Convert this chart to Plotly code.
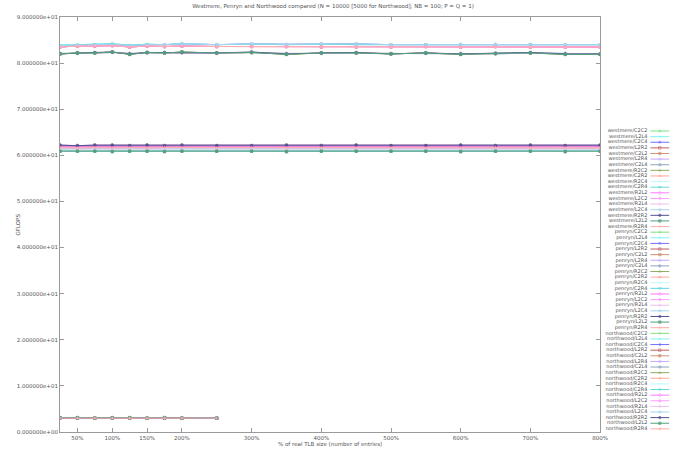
import plotly.graph_objects as go

# ---------------- data ----------------
x_pct = [25, 50, 75, 100, 125, 150, 175, 200, 250, 300, 350, 400, 450, 500, 550, 600, 650, 700, 750, 800]
x_pct_northwood = [25, 50, 75, 100, 125, 150, 175, 200, 250]

x_tick_vals = [50, 100, 150, 200, 300, 400, 500, 600, 700, 800]
x_tick_text = ["50%", "100%", "150%", "200%", "300%", "400%", "500%", "600%", "700%", "800%"]
y_tick_vals = [0, 10, 20, 30, 40, 50, 60, 70, 80, 90]
y_tick_text = ["0.000000e+00", "1.000000e+01", "2.000000e+01", "3.000000e+01", "4.000000e+01",
               "5.000000e+01", "6.000000e+01", "7.000000e+01", "8.000000e+01", "9.000000e+01"]

machines = ["westmere", "penryn", "northwood"]
combos = ["C2C2", "L2L4", "C2C4", "L2R2", "C2L2", "L2R4", "C2L4", "R2C2", "C2R2",
          "R2C4", "C2R4", "R2L2", "L2C2", "R2L4", "L2C4", "R2R2", "L2L2", "R2R4"]

westmere_hi_a = [83.9, 84.0, 84.1, 84.2, 83.9, 84.1, 84.0, 84.2, 84.0, 84.1, 84.0, 84.1, 84.0, 84.0, 84.1, 84.0, 84.0, 84.1, 84.0, 84.0]
westmere_hi_b = [83.8, 83.9, 84.0, 84.1, 83.8, 84.0, 84.0, 84.2, 84.0, 84.2, 84.1, 84.2, 84.2, 84.0, 84.0, 84.1, 84.1, 84.0, 84.0, 84.0]
westmere_hi_c = [83.5, 83.7, 83.7, 83.8, 83.5, 83.7, 83.6, 83.7, 83.6, 83.6, 83.6, 83.5, 83.5, 83.5, 83.6, 83.5, 83.6, 83.5, 83.5, 83.5]
westmere_lo_a = [82.0, 82.2, 82.3, 82.4, 82.0, 82.3, 82.3, 82.3, 82.2, 82.4, 82.0, 82.2, 82.3, 82.0, 82.2, 82.0, 82.1, 82.3, 82.0, 82.0]
westmere_lo_b = [82.1, 82.1, 82.2, 82.3, 82.1, 82.2, 82.2, 82.2, 82.1, 82.3, 82.1, 82.1, 82.2, 82.1, 82.1, 82.1, 82.0, 82.2, 82.1, 82.0]
westmere_lo_c = [82.0, 82.2, 82.2, 82.4, 81.9, 82.3, 82.2, 82.4, 82.2, 82.3, 81.9, 82.2, 82.2, 82.0, 82.2, 81.9, 82.1, 82.2, 81.9, 81.9]

penryn_hi_a = [62.2, 62.1, 62.2, 62.2, 62.1, 62.2, 62.1, 62.2, 62.1, 62.1, 62.2, 62.1, 62.2, 62.1, 62.1, 62.2, 62.1, 62.2, 62.1, 62.2]
penryn_hi_b = [62.0, 62.0, 62.1, 62.0, 62.0, 62.1, 62.0, 62.0, 62.0, 62.0, 62.0, 62.1, 62.0, 62.0, 62.0, 62.0, 62.0, 62.0, 62.0, 62.0]
penryn_mid_a = [61.7, 61.6, 61.7, 61.6, 61.7, 61.6, 61.7, 61.7, 61.6, 61.7, 61.6, 61.7, 61.6, 61.7, 61.6, 61.6, 61.7, 61.6, 61.7, 61.6]
penryn_mid_b = [61.4, 61.4, 61.5, 61.4, 61.4, 61.4, 61.5, 61.4, 61.4, 61.4, 61.5, 61.4, 61.4, 61.4, 61.4, 61.4, 61.4, 61.5, 61.4, 61.4]
penryn_lo_a = [61.0, 60.9, 61.0, 61.0, 60.9, 61.0, 61.0, 61.0, 60.9, 61.0, 60.9, 61.0, 61.0, 60.9, 61.0, 60.9, 61.0, 61.0, 60.9, 61.0]
penryn_lo_b = [60.9, 60.9, 60.9, 60.8, 60.9, 60.9, 60.8, 60.9, 60.9, 60.9, 60.8, 60.9, 60.9, 60.9, 60.9, 60.8, 60.9, 60.9, 60.8, 60.9]

northwood_a = [3.1, 3.1, 3.0, 3.1, 3.1, 3.0, 3.1, 3.0, 3.0]
northwood_b = [3.0, 3.0, 3.0, 3.0, 3.0, 3.0, 3.0, 3.0, 3.0]

westmere_values = {
    "C2C2": westmere_lo_b, "L2L4": westmere_hi_a, "C2C4": westmere_hi_b, "L2R2": westmere_hi_c,
    "C2L2": westmere_lo_c, "L2R4": westmere_lo_a, "C2L4": westmere_lo_b, "R2C2": westmere_lo_c,
    "C2R2": westmere_hi_c, "R2C4": westmere_hi_a, "C2R4": westmere_hi_a, "R2L2": westmere_hi_c,
    "L2C2": westmere_hi_c, "R2L4": westmere_lo_b, "L2C4": westmere_hi_b, "R2R2": westmere_lo_a,
    "L2L2": westmere_lo_c, "R2R4": westmere_hi_c,
}
penryn_values = {
    "C2C2": penryn_lo_a, "L2L4": penryn_mid_a, "C2C4": penryn_hi_b, "L2R2": penryn_hi_a,
    "C2L2": penryn_hi_b, "L2R4": penryn_hi_a, "C2L4": penryn_lo_b, "R2C2": penryn_lo_a,
    "C2R2": penryn_mid_a, "R2C4": penryn_lo_b, "C2R4": penryn_mid_b, "R2L2": penryn_hi_b,
    "L2C2": penryn_mid_a, "R2L4": penryn_mid_b, "L2C4": penryn_lo_a, "R2R2": penryn_hi_a,
    "L2L2": penryn_lo_b, "R2R4": penryn_mid_a,
}
northwood_values = {c: (northwood_a if i % 2 == 0 else northwood_b) for i, c in enumerate(combos)}

# ---------------- styles ----------------
colors = ["#7fe07f", "#7ff5f5", "#7070ff", "#c06060", "#d09070", "#c0a8ff", "#8fa6bf", "#8fae5f", "#ffa898",
          "#c0f8f8", "#60dada", "#ff7aff", "#ff9cff", "#ecc0ec", "#a8d4f0", "#50508f", "#50a080", "#ffacac"]
symbols = ["cross-thin-open", "x-thin-open", "asterisk-open", "square-open", "square", "circle-open",
           "circle", "triangle-up-open", "triangle-up", "triangle-down-open", "triangle-down",
           "diamond-open", "diamond", "pentagon-open", "pentagon", "circle", "square", "cross-thin-open"]

text_color = "#555555"
axis_color = "#9a9a9a"

fig = go.Figure()

series = []
for m, vals, xs in [("westmere", westmere_values, x_pct), ("penryn", penryn_values, x_pct),
                    ("northwood", northwood_values, x_pct_northwood)]:
    for i, c in enumerate(combos):
        series.append((f"{m}/{c}", xs, vals[c], i))

for name, xs, ys, i in series:
    fig.add_trace(go.Scatter(
        x=xs, y=ys, name=name, mode="lines+markers", showlegend=False,
        line=dict(color=colors[i], width=1),
        marker=dict(color=colors[i], size=2.5, symbol=symbols[i], line=dict(width=0.8, color=colors[i])),
        xaxis="x", yaxis="y",
    ))

W, H = 690, 452
px_left, px_right, px_top, px_bottom = 60, 607, 17, 432   # plot box in window pixels
ml, mr, mt, mb = px_left, 0, px_top, H - px_bottom
plot_w = W - ml - mr
plot_h = px_bottom - px_top
dom_end = (px_right - px_left) / plot_w

# ---------------- hand-built legend (window-pixel coordinates on a hidden axis) ----------------
leg_y0, leg_dy = 131.0, 5.62
leg_text_x, leg_l0, leg_l1 = 655.0, 658.0, 677.0
leg_names = [s[0] for s in series]
leg_ys = [leg_y0 + k * leg_dy for k in range(len(series))]

for k, (name, xs, ys, i) in enumerate(series):
    fig.add_trace(go.Scatter(
        x=[leg_l0, (leg_l0 + leg_l1) / 2, leg_l1], y=[leg_ys[k]] * 3,
        mode="lines+markers", showlegend=False, hoverinfo="skip",
        line=dict(color=colors[i], width=1),
        marker=dict(color=colors[i], size=[0, 2.5, 0], symbol=symbols[i], line=dict(width=0.8, color=colors[i])),
        xaxis="x2", yaxis="y2", cliponaxis=False,
    ))
fig.add_trace(go.Scatter(
    x=[leg_text_x] * len(series), y=leg_ys, text=leg_names, mode="text",
    textposition="middle left", textfont=dict(size=5, color=text_color, family="DejaVu Sans"),
    showlegend=False, hoverinfo="skip", xaxis="x2", yaxis="y2", cliponaxis=False,
))

fig.update_layout(
    width=W, height=H,
    margin=dict(l=ml, r=mr, t=mt, b=mb, pad=0),
    paper_bgcolor="white", plot_bgcolor="white",
    font=dict(family="DejaVu Sans", size=5.5, color=text_color),
    showlegend=False,
    title=dict(text="Westmere, Penryn and Northwood compared (N = 10000 [5000 for Northwood]; NB = 100; P = Q = 1)",
               x=333 / W, xref="container", xanchor="center", y=1 - 6 / H,
               yref="container", yanchor="middle", font=dict(size=5.5, color=text_color)),
    xaxis=dict(domain=[0, dom_end], range=[25, 800], tickvals=x_tick_vals, ticktext=x_tick_text,
               ticks="inside", ticklen=4, tickcolor=axis_color, showline=True, linecolor=axis_color,
               linewidth=1, mirror="allticks", showgrid=False, zeroline=False,
               tickfont=dict(size=5.5, color=text_color)),
    yaxis=dict(domain=[0, 1], range=[0, 90], tickvals=y_tick_vals, ticktext=y_tick_text,
               ticks="inside", ticklen=4, tickcolor=axis_color, showline=True, linecolor=axis_color,
               linewidth=1, mirror="allticks", showgrid=False, zeroline=False,
               tickfont=dict(size=5.5, color=text_color)),
    xaxis2=dict(domain=[dom_end, 1], range=[px_right, W], visible=False, fixedrange=True),
    yaxis2=dict(domain=[0, 1], range=[px_bottom, px_top], visible=False, fixedrange=True, anchor="x2"),
    annotations=[
        dict(text="GFLOPS", xref="paper", yref="paper", x=(17 - px_left) / plot_w,
             y=(px_bottom - 225) / plot_h, xanchor="center", yanchor="middle", textangle=-90,
             showarrow=False, font=dict(size=5.5, color=text_color)),
        dict(text="% of real TLB size (number of entries)", xref="paper", yref="paper",
             x=(333 - px_left) / plot_w, y=-(444 - px_bottom) / plot_h, xanchor="center",
             yanchor="middle", showarrow=False, font=dict(size=5.5, color=text_color)),
    ],
)

# remove the browser's default 8px body margin so the figure sits at the window's top-left corner
fig.write_html("out.html", config={"displayModeBar": False},
               post_script="document.body.style.margin='0';document.body.style.overflow='hidden';")
